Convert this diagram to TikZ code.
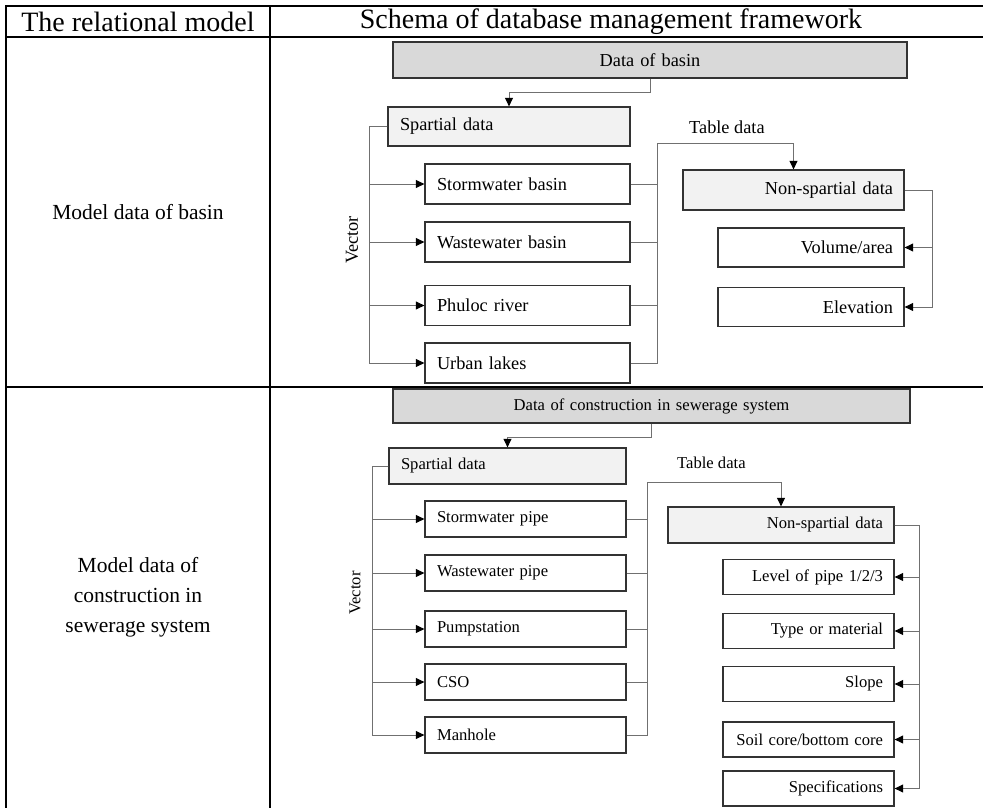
\documentclass[tikz,border=0pt]{standalone}
\usepackage{fontspec}
\setmainfont{Liberation Serif}
\usetikzlibrary{arrows.meta}
\definecolor{hdgray}{HTML}{D9D9D9}
\definecolor{subgray}{HTML}{F2F2F2}
\definecolor{lnk}{HTML}{707070}

\begin{document}
\begin{tikzpicture}[x=1pt, y=-1pt, >={Triangle[length=8.5pt,width=8pt,color=black]},
    grid/.style={line width=2pt, black},
    bx/.style={draw=black!80, line width=1.3pt, inner ysep=0pt, minimum height=#1},
    lft/.style={align=left, inner xsep=12pt},
    rgt/.style={align=right, inner xsep=11pt},
    ln/.style={draw=lnk, line width=1pt},
    ftop/.style={font=\fontsize{18.3}{22}\selectfont},
    fbot/.style={font=\fontsize{16.6}{20}\selectfont}]
    \useasboundingbox (0,0) rectangle (983,808);

    \draw[grid] (6,808) -- (6,6) -- (983,6);
    \draw[grid] (6,37.5) -- (983,37.5);
    \draw[grid] (6,387) -- (983,387);
    \draw[grid] (270,6) -- (270,808);
    \node[font=\fontsize{28}{32}\selectfont] (h1) at (138,22) {The relational model};
    \node[font=\fontsize{28}{32}\selectfont] (h2) at (611,22) {Schema of database management framework};
    \node[font=\fontsize{21.5}{30}\selectfont, align=center] (m1) at (138,212) {Model data of basin};
    \node[font=\fontsize{21.5}{30}\selectfont, align=center] (m2) at (138,597)
      {Model data of\\construction in\\sewerage system};

    % basin
    \node[bx=36pt, ftop, fill=hdgray, text width=514pt, align=center, inner xsep=0pt] (db1) at (650,60) {Data of basin};
    \node[bx=39pt, ftop, fill=subgray, text width=218pt, lft] (sd1) at (509,126.5) {Spartial data};
    \draw[ln,->] (db1.south) -- ++(0,14) -| (sd1.north);
    \node[ftop, rotate=90] (v1) at (352,240) {Vector};
    \node[ftop, anchor=west, inner sep=0pt] (t1) at (689,127) {Table data};
    \coordinate (td1) at (657,143);
    \node[bx=40pt, ftop, fill=subgray, text width=199pt, rgt] (ns1) at (793.5,190) {Non-spartial data};
    \draw[ln,->] (td1) -| (ns1.north);
    \foreach \n/\y/\t in {sb/184/Stormwater basin, wb/242/Wastewater basin,
        pr/305.5/Phuloc river, ul/363/Urban lakes} {
      \node[bx=40pt, ftop, fill=white, text width=181pt, lft] (\n) at (527.5,\y) {\t};
      \draw[ln,->] (sd1.west) -- ++(-18,0) |- (\n.west);
      \draw[ln] (\n.east) -| (td1);
    }
    \foreach \n/\y/\t in {va/247.5/{Volume/area}, el/307/Elevation} {
      \node[bx=39pt, ftop, fill=white, text width=164pt, rgt] (\n) at (811,\y) {\t};
      \draw[ln,->] (ns1.east) -- ++(28,0) |- (\n.east);
    }

    % sewerage system
    \node[bx=34pt, fbot, fill=hdgray, text width=517pt, align=center, inner xsep=0pt] (db2) at (651.5,406) {Data of construction in sewerage system};
    \node[bx=36pt, fbot, fill=subgray, text width=213pt, lft] (sd2) at (507.5,466) {Spartial data};
    \draw[ln,->] (db2.south) -- ++(0,14) -| (sd2.north);
    \node[fbot, rotate=90] (v2) at (355,593) {Vector};
    \node[fbot, anchor=west, inner sep=0pt] (t2) at (677,463) {Table data};
    \coordinate (td2) at (647,482);
    \node[bx=36pt, fbot, fill=subgray, text width=204pt, rgt] (ns2) at (781,525) {Non-spartial data};
    \draw[ln,->] (td2) -| (ns2.north);
    \foreach \n/\y/\t in {sp/519/Stormwater pipe, wp/573/Wastewater pipe,
        ps/629/Pumpstation, cs/682/CSO, mh/735/Manhole} {
      \node[bx=36pt, fbot, fill=white, text width=177pt, lft] (\n) at (525.5,\y) {\t};
      \draw[ln,->] (sd2.west) -- ++(-16,0) |- (\n.west);
      \draw[ln] (\n.east) -| (td2);
    }
    \foreach \n/\y/\t in {lp/577/{Level of pipe 1/2/3}, tm/631/Type or material, sl/684/Slope,
        sc/739.5/{Soil core/bottom core}, sf/788.5/Specifications} {
      \node[bx=35pt, fbot, fill=white, text width=149pt, rgt] (\n) at (808.5,\y) {\t};
      \draw[ln,->] (ns2.east) -- ++(25,0) |- (\n.east);
    }
\end{tikzpicture}
\end{document}
